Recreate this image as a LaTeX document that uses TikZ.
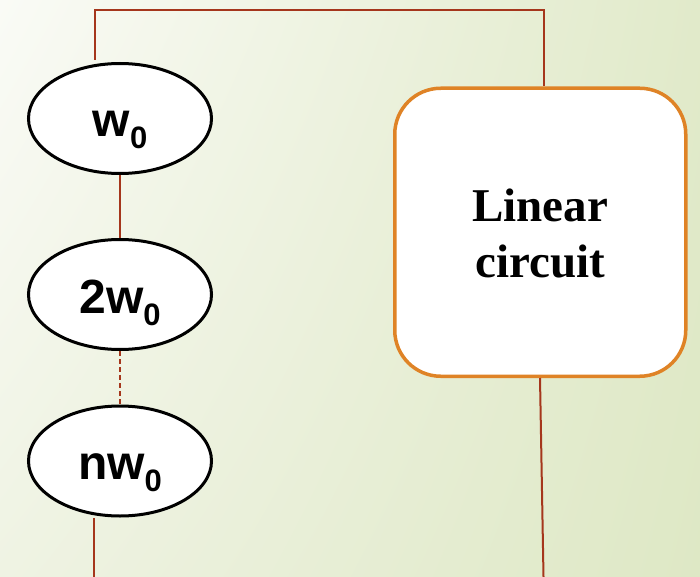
\documentclass[tikz,border=0pt]{standalone}
\usepackage{fontspec}
\setmainfont{Liberation Serif}
\setsansfont{Liberation Sans}
\usetikzlibrary{shapes.geometric,shadings}

\definecolor{wire}{HTML}{A5361C}
\definecolor{boxedge}{HTML}{DF8326}
\definecolor{bgul}{HTML}{FAFBF6}
\definecolor{bgur}{HTML}{E1EACA}
\definecolor{bgll}{HTML}{EFF3E3}
\definecolor{bglr}{HTML}{DEE8C5}

% lowered subscript zero in the harmonic labels
\newcommand{\subzero}{\raisebox{-12pt}{\fontsize{31}{31}\selectfont 0}}

\tikzset{
  harmonic/.style={ellipse, draw=black, line width=3pt, fill=white,
    minimum width=183pt, minimum height=110pt, inner sep=0pt,
    font=\sffamily\bfseries\fontsize{48}{50}\selectfont,
    text height=40pt, text depth=3pt},
  circuitbox/.style={rectangle, rounded corners=46pt, draw=boxedge,
    line width=3.5pt, fill=white, minimum width=291pt,
    minimum height=288pt, inner sep=0pt, align=center,
    font=\rmfamily\bfseries\fontsize{47}{56.5}\selectfont},
  wireline/.style={draw=wire, line width=2pt},
}

\begin{document}
\begin{tikzpicture}[x=1pt, y=-1pt]
  \useasboundingbox (0,0) rectangle (700,577);
  % soft background gradient
  \shade[upper left=bgul, upper right=bgur, lower left=bgll, lower right=bglr]
    (0,0) rectangle (700,577);

  % harmonic sources
  \node[harmonic] (w1) at (120,118.5) {w\subzero};
  \node[harmonic] (w2) at (120,294.5) {2w\subzero};
  \node[harmonic] (wn) at (120,461) {nw\subzero};

  % linear circuit block
  \node[circuitbox] (lc) at (540.25,232.25) {\rule{0pt}{35pt}Linear\\circuit};

  % free wire ends
  \coordinate (topleft) at (95,60);
  \coordinate (botleft) at (94,518);
  \coordinate (botleftend) at (94,577);
  \coordinate (lcbot) at (540,378);
  \coordinate (botright) at (543.5,577);

  % connections
  \draw[wireline] (topleft) |- (544,10) -- (lc.north -| 544,0);
  \draw[wireline] (w1.south) -- (w2.north);
  \draw[wireline, dash pattern=on 5pt off 3pt] (w2.south) -- (wn.north);
  \draw[wireline] (botleft) -- (botleftend);
  \draw[wireline] (lcbot) -- (botright);
\end{tikzpicture}
\end{document}
